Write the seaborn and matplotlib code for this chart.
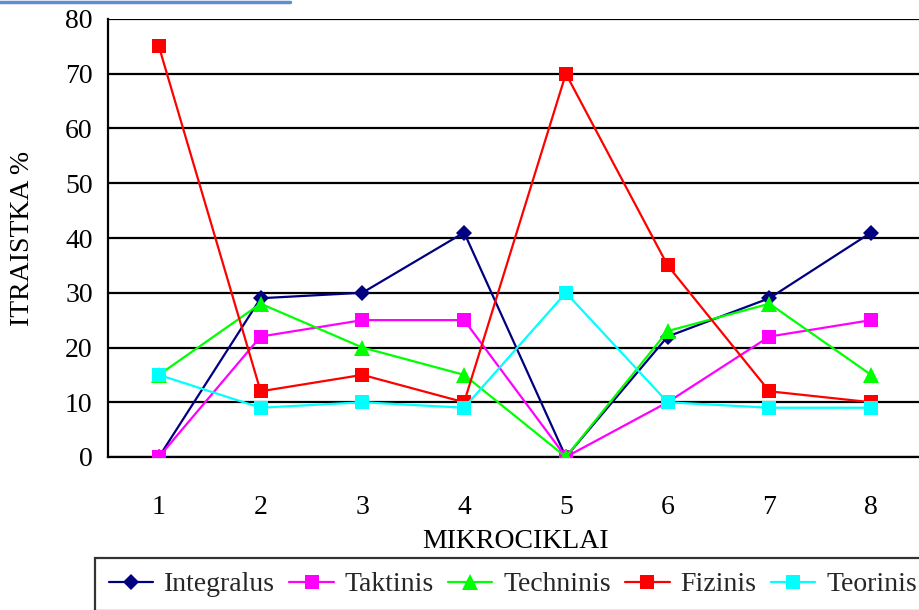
import numpy as np
import pandas as pd
import seaborn as sns
import matplotlib.pyplot as plt
from matplotlib.lines import Line2D

# --- Data ---
mikrociklai = [1, 2, 3, 4, 5, 6, 7, 8]
integralus = [0, 29, 30, 41, 0, 22, 29, 41]
taktinis = [0, 22, 25, 25, 0, 10, 22, 25]
techninis = [15, 28, 20, 15, 0, 23, 28, 15]
fizinis = [75, 12, 15, 10, 70, 35, 12, 10]
teorinis = [15, 9, 10, 9, 30, 10, 9, 9]

series = {
    "Integralus": integralus,
    "Taktinis": taktinis,
    "Techninis": techninis,
    "Fizinis": fizinis,
    "Teorinis": teorinis,
}
rows = []
for name, vals in series.items():
    for x, v in zip(mikrociklai, vals):
        rows.append((name, x, v))
df = pd.DataFrame(rows, columns=["serija", "mikrociklas", "reiksme"])

palette = {
    "Integralus": "#000080",
    "Taktinis": "#FF00FF",
    "Techninis": "#00FF00",
    "Fizinis": "#FF0000",
    "Teorinis": "#00FFFF",
}
markers = {"Integralus": "D", "Taktinis": "s", "Techninis": "^",
           "Fizinis": "s", "Teorinis": "s"}
msizes = {"Integralus": 8.5, "Taktinis": 10.5, "Techninis": 11,
          "Fizinis": 10.5, "Teorinis": 10.5}

FS = 20

# --- Plot ---
sns.set_theme(style="white")
plt.rcParams["font.family"] = ["Liberation Serif", "DejaVu Serif"]

fig = plt.figure(figsize=(9.19, 6.10), dpi=100)
ax = fig.add_axes([108 / 919, 1 - 457 / 610, (922 - 108) / 919, (457 - 19) / 610])

for name in series:
    sub = df[df["serija"] == name]
    sns.lineplot(data=sub, x="mikrociklas", y="reiksme", ax=ax,
                 color=palette[name], marker=markers[name],
                 markersize=msizes[name], markeredgewidth=0,
                 linewidth=1.6, label=name, legend=False, zorder=3)

ax.set_xlim(0.5, 8.5)
ax.set_ylim(0, 80)
ax.set_yticks(np.arange(0, 81, 10))
ax.set_xticks(mikrociklai)
ax.set_xticks(np.arange(0.5, 8.6, 1), minor=True)
ax.tick_params(axis="x", which="major", length=0, labelsize=FS, pad=27, colors="black")
ax.tick_params(axis="x", which="minor", length=7, width=1.6, direction="out", color="black")
ax.tick_params(axis="y", length=7, width=1.6, direction="out", labelsize=FS, colors="black", pad=4)
ax.yaxis.grid(True, color="black", linewidth=1.6)
ax.set_axisbelow(True)
for s in ["top", "right"]:
    ax.spines[s].set_visible(False)
for s in ["left", "bottom"]:
    ax.spines[s].set_color("black")
    ax.spines[s].set_linewidth(1.6)

ax.set_xlabel("MIKROCIKLAI", fontsize=FS, color="black", labelpad=7)
ax.set_ylabel("ITRAISTKA %", fontsize=FS, color="black", labelpad=22)

handles = [Line2D([], [], color=palette[n], marker=markers[n], markersize=msizes[n],
                  markeredgewidth=0, linewidth=1.6) for n in series]
leg = fig.legend(handles, list(series.keys()), loc="upper left",
                 bbox_to_anchor=(95 / 919, 1 - 558 / 610), ncol=5, fontsize=FS,
                 frameon=True, fancybox=False, edgecolor="black",
                 handlelength=1.6, handletextpad=0.4, columnspacing=0.5,
                 borderpad=0.5, borderaxespad=0)
leg.get_frame().set_linewidth(1.6)

# blue line fragment at the top edge
fig.add_artist(Line2D([0, 290 / 919], [0.997, 0.997], color="#5B8FD0",
                      linewidth=2.5, transform=fig.transFigure))

fig.savefig("out.png", dpi=100)
